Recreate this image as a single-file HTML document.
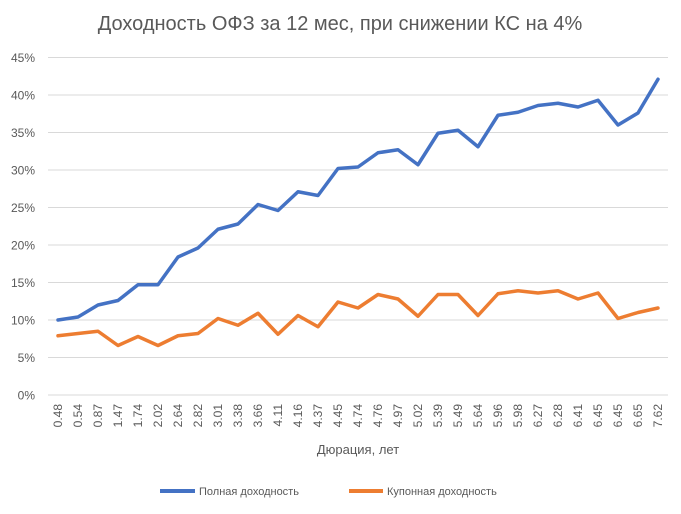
<!DOCTYPE html>
<html><head><meta charset="utf-8"><style>
body{margin:0;background:#fff;}
svg{display:block;font-family:"Liberation Sans","DejaVu Sans",sans-serif;}
</style></head><body>
<svg id="chart" width="681" height="514">
<text x="340" y="30" text-anchor="middle" font-size="20" fill="#595959">Доходность ОФЗ за 12 мес, при снижении КС на 4%</text>
<g id="grid"></g><g id="xl"></g><g id="lines"></g>
<text x="358" y="454" text-anchor="middle" font-size="13" fill="#595959">Дюрация, лет</text>
<g>
<line x1="160" y1="491" x2="195" y2="491" stroke="#4472C4" stroke-width="4"/>
<text x="199" y="495" font-size="11" fill="#595959">Полная доходность</text>
<line x1="349" y1="491" x2="383" y2="491" stroke="#ED7D31" stroke-width="4"/>
<text x="387" y="495" font-size="11" fill="#595959">Купонная доходность</text>
</g>
</svg>
<script>
const categories=["0.48","0.54","0.87","1.47","1.74","2.02","2.64","2.82","3.01","3.38","3.66","4.11","4.16","4.37","4.45","4.74","4.76","4.97","5.02","5.39","5.49","5.64","5.96","5.98","6.27","6.28","6.41","6.45","6.45","6.65","7.62"];
const fullYield=[10.0,10.4,12.0,12.6,14.7,14.7,18.4,19.6,22.1,22.8,25.4,24.6,27.1,26.6,30.2,30.4,32.3,32.7,30.7,34.9,35.3,33.1,37.3,37.7,38.6,38.9,38.4,39.3,36.0,37.6,42.1];
const couponYield=[7.9,8.2,8.5,6.6,7.8,6.6,7.9,8.2,10.2,9.3,10.9,8.1,10.6,9.1,12.4,11.6,13.4,12.8,10.5,13.4,13.4,10.6,13.5,13.9,13.6,13.9,12.8,13.6,10.2,11.0,11.6];
const yTicks=[0,5,10,15,20,25,30,35,40,45];
const NS="http://www.w3.org/2000/svg";
const L=48,R=668,T0=395,PX=7.5;
const step=(R-L)/categories.length;
const x=i=>L+step*(i+0.5);
const y=v=>T0-v*PX;
const grid=document.getElementById('grid'),xl=document.getElementById('xl'),lines=document.getElementById('lines');
yTicks.forEach(t=>{
 const l=document.createElementNS(NS,'line');
 l.setAttribute('x1',L);l.setAttribute('x2',R);l.setAttribute('y1',y(t));l.setAttribute('y2',y(t));
 l.setAttribute('stroke','#d9d9d9');l.setAttribute('stroke-width','1');
 
 
 grid.appendChild(l);
 const tx=document.createElementNS(NS,'text');
 tx.setAttribute('x',35);tx.setAttribute('y',y(t)+4.5);tx.setAttribute('text-anchor','end');
 tx.setAttribute('font-size','12');tx.setAttribute('fill','#595959');
 tx.textContent=t+'%';
 
 
 grid.appendChild(tx);
});
categories.forEach((c,i)=>{
 const tx=document.createElementNS(NS,'text');
 const cx=x(i)+4;
 tx.setAttribute('x',cx);tx.setAttribute('y',404);tx.setAttribute('text-anchor','end');
 tx.setAttribute('transform','rotate(-90 '+cx+' 404)');
 tx.setAttribute('font-size','12');tx.setAttribute('fill','#595959');
 tx.textContent=c;
 
 
 xl.appendChild(tx);
});
function series(vals,color,name){
 const p=document.createElementNS(NS,'polyline');
 p.setAttribute('points',vals.map((v,i)=>x(i)+','+y(v)).join(' '));
 p.setAttribute('fill','none');p.setAttribute('stroke',color);p.setAttribute('stroke-width','3.5');
 p.setAttribute('stroke-linejoin','round');p.setAttribute('stroke-linecap','round');
 
 
 lines.appendChild(p);
}
series(couponYield,'#ED7D31','coupon-yield-line');
series(fullYield,'#4472C4','full-yield-line');
</script>
</body></html>
